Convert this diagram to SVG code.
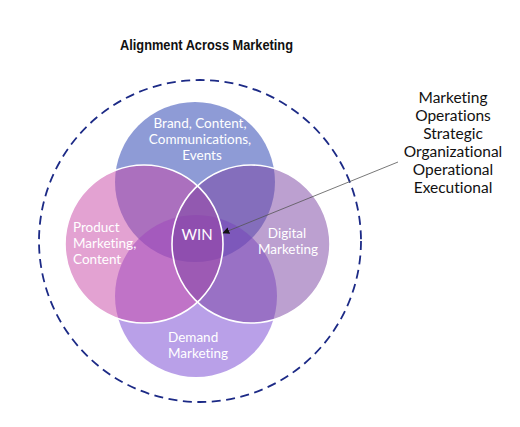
<svg xmlns="http://www.w3.org/2000/svg" width="520" height="427" viewBox="0 0 520 427">
<style>
.lbl{font-family:Lato,"Open Sans","DejaVu Sans",sans-serif;font-size:13.5px;fill:#ffffff;font-variant-ligatures:none}
.side{font-family:Lato,"Open Sans","DejaVu Sans",sans-serif;font-size:15.5px;fill:#111111;text-anchor:middle;font-variant-ligatures:none}
.ttl{font-family:"Liberation Sans",Arial,sans-serif;font-weight:bold;font-size:14px;fill:#111111}
.c{fill-opacity:0.5}
.edge{fill:none;stroke:#ffffff;stroke-width:1.6}
</style>
<defs>
<marker id="ah" viewBox="0 0 10 10" refX="9" refY="5" markerWidth="7" markerHeight="7" orient="auto" markerUnits="userSpaceOnUse">
<path d="M0,0 L10,5 L0,10 z" fill="#111111"/>
</marker>
</defs>
<rect width="520" height="427" fill="#ffffff"/>
<text class="ttl" x="120" y="50" textLength="173" lengthAdjust="spacingAndGlyphs">Alignment Across Marketing</text>
<g id="boundary">
<circle cx="200" cy="241" r="161" fill="none" stroke="#1c2a86" stroke-width="1.8" stroke-dasharray="9 5.5"/>
</g>
<g id="brand">
<circle class="c" cx="195" cy="182" r="80" fill="#1d37ad"/>
</g>
<g id="demand">
<circle class="c" cx="196" cy="296" r="81" fill="#7341d1"/>
</g>
<g id="product">
<circle class="c" cx="144" cy="244" r="79" fill="#c745a5"/>
</g>
<g id="digital">
<circle class="c" cx="251" cy="244" r="79" fill="#7941a1"/>
</g>
<g id="outlines">
<circle class="edge" cx="144" cy="244" r="79"/>
<circle class="edge" cx="251" cy="244" r="79"/>
</g>
<g id="labels">
<text class="lbl" x="200" y="128" text-anchor="middle">Brand, Content,</text>
<text class="lbl" x="200" y="144" text-anchor="middle">Communications,</text>
<text class="lbl" x="202" y="160" text-anchor="middle">Events</text>
<text class="lbl" x="73" y="232">Product</text>
<text class="lbl" x="73" y="248">Marketing,</text>
<text class="lbl" x="73" y="264">Content</text>
<text class="lbl" x="287" y="238" text-anchor="middle">Digital</text>
<text class="lbl" x="288" y="254" text-anchor="middle">Marketing</text>
<text class="lbl" x="168" y="342">Demand</text>
<text class="lbl" x="168" y="358">Marketing</text>
<text class="lbl" x="197" y="240" text-anchor="middle" style="font-size:15px">WIN</text>
</g>
<g id="ops">
<text class="side" x="453" y="103">Marketing</text>
<text class="side" x="453" y="121">Operations</text>
<text class="side" x="453" y="139">Strategic</text>
<text class="side" x="453" y="157">Organizational</text>
<text class="side" x="453" y="175">Operational</text>
<text class="side" x="453" y="193">Executional</text>
</g>
<g id="connectors">
<line x1="398" y1="162" x2="223" y2="233" stroke="#555555" stroke-width="0.8" marker-end="url(#ah)"/>
</g>
</svg>
